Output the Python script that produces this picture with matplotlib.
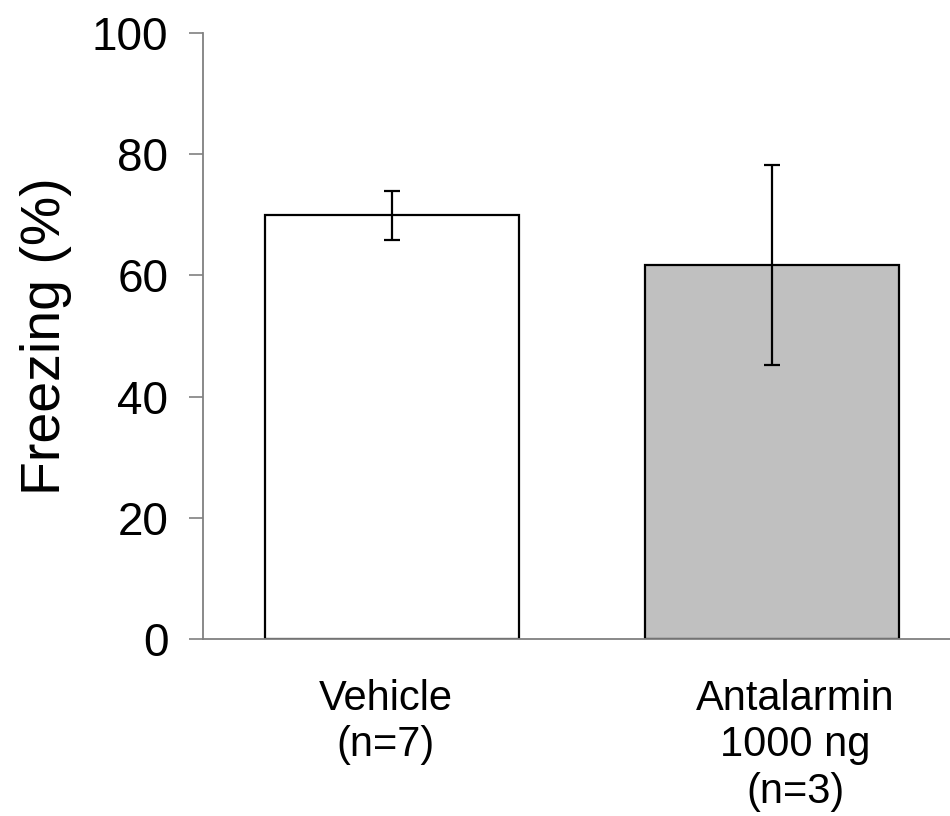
import matplotlib
matplotlib.use("Agg")
import matplotlib.pyplot as plt
from matplotlib.transforms import ScaledTranslation

plt.rcParams['font.family'] = ['Liberation Sans', 'DejaVu Sans']

groups = ["Vehicle\n(n=7)", "Antalarmin\n1000 ng\n(n=3)"]
freezing = [70.0, 61.7]
err_low = [4.2, 16.5]
err_high = [3.9, 16.5]
colors = ["white", "#c0c0c0"]

fig = plt.figure(figsize=(9.5, 8.16), dpi=100)
ax = fig.add_axes([0.2137, 0.2169, 0.7863, 0.7427])

pos = list(range(len(groups)))
ax.bar(pos, freezing, width=0.668, color=colors, edgecolor="black", linewidth=1.6, zorder=2)
ax.errorbar(pos, freezing, yerr=[err_low, err_high], fmt="none", ecolor="black",
            elinewidth=1.6, capsize=6, capthick=1.6, zorder=3)

ax.set_xlim(-0.497, 1.468)
ax.set_ylim(0, 100)
ax.set_yticks([0, 20, 40, 60, 80, 100])
ax.set_xticks(pos)
ax.set_xticklabels(groups, fontsize=30, linespacing=1.2, va="top")
ax.tick_params(axis="x", length=0, pad=29)
ax.tick_params(axis="y", direction="out", length=10, width=1.2, color="#808080", pad=15, labelsize=33)
ax.set_ylabel("Freezing (%)", fontsize=40, labelpad=14)

# labels in the original sit a little off the bar centres
shifts = [-6, 23]
for lab, dx in zip(ax.get_xticklabels(), shifts):
    lab.set_transform(lab.get_transform() + ScaledTranslation(dx / 100, 0, fig.dpi_scale_trans))

for s in ["top", "right"]:
    ax.spines[s].set_visible(False)
for s in ["left", "bottom"]:
    ax.spines[s].set_color("#808080")
    ax.spines[s].set_linewidth(1.3)

fig.savefig("out.png", dpi=100)
